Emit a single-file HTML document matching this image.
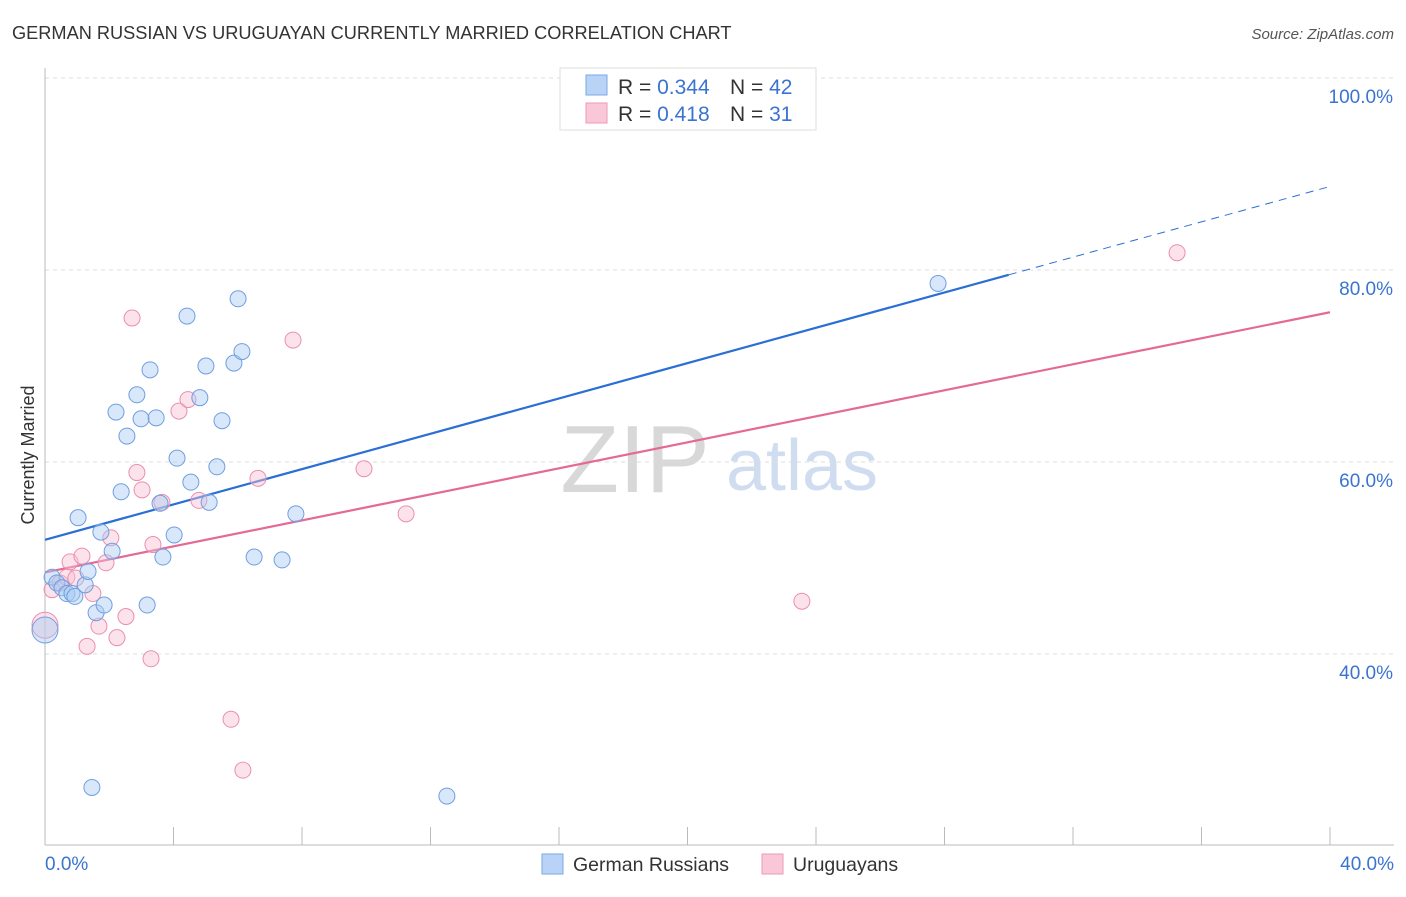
<!DOCTYPE html>
<html><head><meta charset="utf-8">
<style>
body{margin:0;background:#fff;font-family:"Liberation Sans",sans-serif;}
svg text{font-family:"Liberation Sans",sans-serif;}
</style></head>
<body>
<svg id="chart" width="1406" height="892" viewBox="0 0 1406 892" xmlns="http://www.w3.org/2000/svg">
<text x="12" y="39" font-size="18.2" fill="#333">GERMAN RUSSIAN VS URUGUAYAN CURRENTLY MARRIED CORRELATION CHART</text>
<text x="1394" y="39" font-size="15" fill="#555" text-anchor="end" font-style="italic">Source: ZipAtlas.com</text>
<text x="34" y="455" font-size="18" fill="#333" text-anchor="middle" transform="rotate(-90 34 455)">Currently Married</text>
<g><text x="635" y="492" font-size="96" fill="#d8d8d8" font-family="Liberation Serif" text-anchor="middle">ZIP</text><text x="802" y="490" font-size="72" fill="#d0ddf0" text-anchor="middle">atlas</text></g>
<g id="grid"></g><g id="axes"></g><g id="lines"></g><g id="pts"></g>
<g>
<rect x="560" y="68" width="256" height="62" fill="#fff" stroke="#ddd"/>
<rect x="586" y="75" width="21" height="20" fill="#b8d3f5" stroke="#7aa8e8"/>
<rect x="586" y="103" width="21" height="20" fill="#f9c8d8" stroke="#ee9ab5"/>
<text x="618" y="94" font-size="21" fill="#333">R = <tspan fill="#3a74d0">0.344</tspan></text>
<text x="730" y="94" font-size="21" fill="#333">N = <tspan fill="#3a74d0">42</tspan></text>
<text x="618" y="121" font-size="21" fill="#333">R =  <tspan fill="#3a74d0">0.418</tspan></text>
<text x="730" y="121" font-size="21" fill="#333">N =  <tspan fill="#3a74d0">31</tspan></text>
</g>
<g>
<rect x="542" y="854" width="21" height="20" fill="#b8d3f5" stroke="#7aa8e8"/>
<text x="573" y="871" font-size="19.5" fill="#333">German Russians</text>
<rect x="762" y="854" width="21" height="20" fill="#f9c8d8" stroke="#ee9ab5"/>
<text x="793" y="871" font-size="19.5" fill="#333">Uruguayans</text>
</g>
</svg>
<script>
const yTicks=[100,80,60,40];
const yTickLabels=["100.0%","80.0%","60.0%","40.0%"];
const xTickLabels=["0.0%","40.0%"];
const blueX=[0.22,0.37,0.53,0.68,0.84,0.93,1.03,1.25,1.34,1.59,1.74,1.84,2.09,2.21,2.37,2.55,2.86,2.99,3.18,3.27,3.46,3.58,3.67,4.02,4.11,4.42,4.54,4.82,5.01,5.11,5.35,5.51,5.88,6.01,6.13,6.51,7.38,7.81,1.46,12.51,27.80,0];
const blueY=[48.0,47.4,46.9,46.3,46.3,46.0,54.2,47.2,48.6,44.3,52.7,45.1,50.7,65.2,56.9,62.7,67.0,64.5,45.1,69.6,64.6,55.7,50.1,52.4,60.4,75.2,57.9,66.7,70.0,55.8,59.5,64.3,70.3,77.0,71.5,50.1,49.8,54.6,26.1,25.2,78.6,42.5];
const pinkX=[0,0.22,0.47,0.68,0.78,0.96,1.15,1.31,1.49,1.68,1.90,2.05,2.24,2.52,2.71,2.86,3.02,3.30,3.36,3.64,4.17,4.45,4.79,5.79,6.16,6.63,7.72,9.93,11.24,23.56,35.24];
const pinkY=[43.0,46.7,47.4,48.0,49.6,47.9,50.2,40.8,46.3,42.9,49.5,52.1,41.7,43.9,75.0,58.9,57.1,39.5,51.4,55.8,65.3,66.5,56.0,33.2,27.9,58.3,72.7,59.3,54.6,45.5,81.8];
const blueLine=[51.9,88.7];
const pinkLine=[48.5,75.6];
const NS="http://www.w3.org/2000/svg";
const sx=v=>45+v*32.125;
const sy=v=>78+(100-v)*9.6;
function mk(tag,attrs,parent){const e=document.createElementNS(NS,tag);for(const k in attrs)e.setAttribute(k,attrs[k]);document.getElementById(parent).appendChild(e);return e;}
yTicks.forEach((t,i)=>{
 const g=mk('line',{x1:45,x2:1394,y1:sy(t),y2:sy(t),stroke:'#ddd','stroke-dasharray':'4,4'},'grid');
 
 
 const l=mk('text',{x:1393,y:sy(t)+25,'font-size':19,fill:'#3a74d0','text-anchor':'end'},'grid');
 l.textContent=yTickLabels[i];
 
 
});
const ax=mk('line',{x1:45,x2:45,y1:68,y2:845,stroke:'#bbb'},'axes');


const bx=mk('line',{x1:45,x2:1394,y1:845,y2:845,stroke:'#bbb'},'axes');


for(let i=0;i<=10;i++){const t=mk('line',{x1:sx(i*4),x2:sx(i*4),y1:827,y2:845,stroke:'#bbb'},'axes');
 
 }
[[0,'start',45],[40,'end',1394]].forEach((d,i)=>{const t=mk('text',{x:d[2],y:870,'font-size':19,fill:'#3a74d0','text-anchor':d[1]},'axes');t.textContent=xTickLabels[i];
 
 });
function pt(x,y,fill,stroke,r){const c=mk('circle',{cx:sx(x),cy:sy(y),r:r,fill:fill,'fill-opacity':0.45,stroke:stroke,'stroke-width':1},'pts');return c;}
pinkX.forEach((x,i)=>{const c=pt(x,pinkY[i],'#f9c0d2','#ea8fb0',i===0?13:8);
 
 });
blueX.forEach((x,i)=>{const c=pt(x,blueY[i],'#a9c9f2','#6f9fe0',i===41?13:8);
 
 });
const bAt=x=>blueLine[0]+(blueLine[1]-blueLine[0])*x/40;
const b1=mk('line',{x1:sx(0),y1:sy(bAt(0)),x2:sx(30),y2:sy(bAt(30)),stroke:'#2a6fd6','stroke-width':2.2},'lines');


const b2=mk('line',{x1:sx(30),y1:sy(bAt(30)),x2:sx(40),y2:sy(bAt(40)),stroke:'#2a6fd6','stroke-width':1,'stroke-dasharray':'8,6'},'lines');


const p1=mk('line',{x1:sx(0),y1:sy(pinkLine[0]),x2:sx(40),y2:sy(pinkLine[1]),stroke:'#e46a95','stroke-width':2.2},'lines');


</script>
</body></html>
